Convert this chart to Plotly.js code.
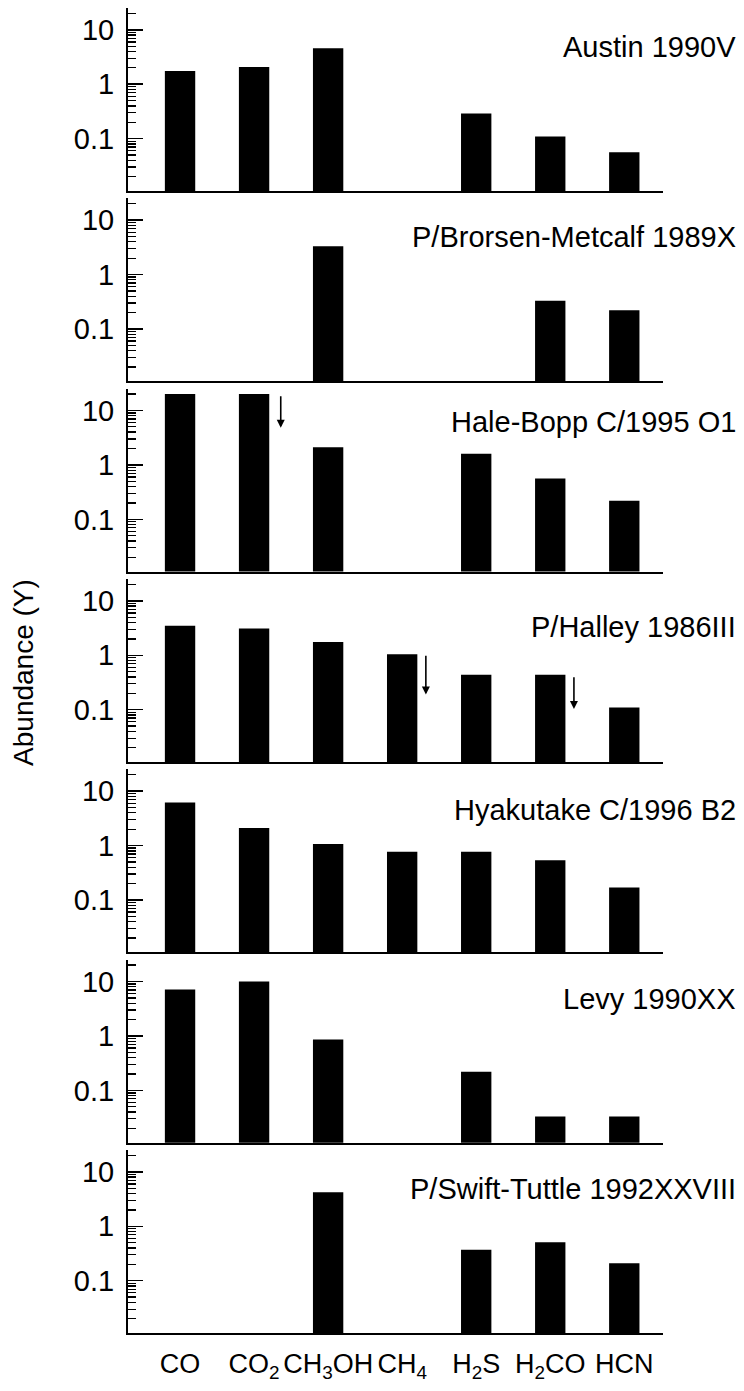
<!DOCTYPE html>
<html>
<head>
<meta charset="utf-8">
<script src="https://cdn.plot.ly/plotly-3.0.1.min.js"></script>
<style>html,body{margin:0;padding:0;background:#fff;}#chart{width:744px;height:1391px;}</style>
</head>
<body>
<div id="chart"></div>
<script>
// ---- data ----
const molecules = ['CO', 'CO<sub>2</sub>', 'CH<sub>3</sub>OH', 'CH<sub>4</sub>', 'H<sub>2</sub>S', 'H<sub>2</sub>CO', 'HCN'];
const comets = ['Austin 1990V', 'P/Brorsen-Metcalf 1989X', 'Hale-Bopp C/1995 O1', 'P/Halley 1986III',
                'Hyakutake C/1996 B2', 'Levy 1990XX', 'P/Swift-Tuttle 1992XXVIII'];
const austin      = [1.75, 2.08, 4.6, null, 0.29, 0.11, 0.056];
const brorsen     = [null, null, 3.3, null, null, 0.33, 0.22];
const haleBopp    = [20, 20, 2.1, null, 1.6, 0.56, 0.22];
const halley      = [3.5, 3.1, 1.75, 1.04, 0.44, 0.44, 0.11];
const hyakutake   = [6.2, 2.1, 1.07, 0.77, 0.77, 0.54, 0.17];
const levy        = [7.1, 10, 0.86, null, 0.22, 0.033, 0.033];
const swiftTuttle = [null, null, 4.2, null, 0.37, 0.51, 0.21];
const series = [austin, brorsen, haleBopp, halley, hyakutake, levy, swiftTuttle];
// upper-limit arrows: panel index, molecule index, from value, to value
const limitPanel = [2, 3, 3];
const limitMol   = [1, 3, 5];
const limitFrom  = [19.4, 1.04, 0.42];
const limitTo    = [4.8, 0.19, 0.103];
const yTickVals = [0.1, 1, 10];
const yTickText = ['0.1', '1', '10'];

// ---- layout geometry (style, not data) ----
const FONT = 'Liberation Sans, Arial, Helvetica, sans-serif';
const plotLeft = 128, plotRight = 662.7, plotTop = 7.7, plotBottom = 1333.3;
const plotW = plotRight - plotLeft, plotH = plotBottom - plotTop;
const panelH = 183, firstBottom = 190.7, panelStep = 190.43;
const labelAbove = [144, 144, 150, 135, 142, 144, 144];
const arrowShift = [0.36, 0.32, 0.32];
const idx = molecules.map((_, i) => i);

const minorVals = [];
[0.01, 0.1, 1, 10].forEach(d => { for (let k = 2; k <= 9; k++) { if (d * k <= 25) minorVals.push(d * k); } });

const data = [];
const layout = {
  width: 744, height: 1391,
  margin: {l: plotLeft, r: 744 - plotRight, t: plotTop, b: 1391 - plotBottom, pad: 0},
  paper_bgcolor: '#fff', plot_bgcolor: '#fff',
  showlegend: false,
  font: {family: FONT, color: '#000', size: 27},
  annotations: []
};

series.forEach((vals, i) => {
  const n = i + 1;
  const xa = 'xaxis' + (i === 0 ? '' : n), ya = 'yaxis' + (i === 0 ? '' : n);
  const xr = 'x' + (i === 0 ? '' : n), yr = 'y' + (i === 0 ? '' : n);
  const bPx = firstBottom + panelStep * i, tPx = bPx - panelH;
  const d0 = Math.max(0, (plotBottom - bPx) / plotH), d1 = Math.min(1, (plotBottom - tPx) / plotH);
  data.push({
    type: 'bar', x: idx, y: vals, xaxis: xr, yaxis: yr,
    marker: {color: '#000', line: {width: 0}}, width: 0.41, hoverinfo: 'skip'
  });
  layout[xa] = {
    anchor: yr, range: [-0.703, 6.523], domain: [0, 1],
    showline: true, linewidth: 2, linecolor: '#000', mirror: false,
    showgrid: false, zeroline: false, ticks: '',
    tickmode: 'array', tickvals: idx, ticktext: molecules, tickangle: 0,
    showticklabels: i === series.length - 1,
    tickfont: {family: FONT, size: 27, color: '#000'},
    ticklabelstandoff: 6, fixedrange: true
  };
  layout[ya] = {
    anchor: xr, type: 'log', range: [-1.96, 1.40], domain: [d0, d1],
    showline: true, linewidth: 2, linecolor: '#000',
    showgrid: false, zeroline: false,
    tickmode: 'array', tickvals: yTickVals, ticktext: yTickText,
    ticks: 'inside', ticklen: 15, tickwidth: 1.5, tickcolor: '#000',
    tickfont: {family: FONT, size: 29, color: '#000'},
    ticklabelstandoff: 6,
    minor: {tickmode: 'array', tickvals: minorVals, ticks: 'inside', ticklen: 8, tickwidth: 1.3, tickcolor: '#000', showgrid: false},
    fixedrange: true
  };
  layout.annotations.push({
    text: comets[i], xref: 'paper', yref: yr + ' domain',
    x: (738 - plotLeft) / plotW, y: labelAbove[i] / panelH,
    xanchor: 'right', yanchor: 'middle', showarrow: false,
    font: {family: FONT, size: 29, color: '#000'}
  });
});

limitPanel.forEach((p, j) => {
  const n = p + 1;
  const xr = 'x' + (p === 0 ? '' : n), yr = 'y' + (p === 0 ? '' : n);
  const xv = limitMol[j] + arrowShift[j];
  layout.annotations.push({
    text: '', xref: xr, yref: yr, axref: xr, ayref: yr,
    x: xv, y: Math.log10(limitTo[j]), ax: xv, ay: Math.log10(limitFrom[j]),
    showarrow: true, arrowhead: 2, arrowsize: 1, arrowwidth: 1.6, arrowcolor: '#000',
    standoff: 0, startstandoff: 0
  });
});

layout.annotations.push({
  text: 'Abundance (Y)', xref: 'paper', yref: 'paper',
  x: (24 - plotLeft) / plotW, y: (plotBottom - 672) / plotH,
  xanchor: 'center', yanchor: 'middle', textangle: -90, showarrow: false,
  font: {family: FONT, size: 28, color: '#000'}
});

Plotly.newPlot('chart', data, layout, {staticPlot: true, displayModeBar: false});
</script>
</body>
</html>
